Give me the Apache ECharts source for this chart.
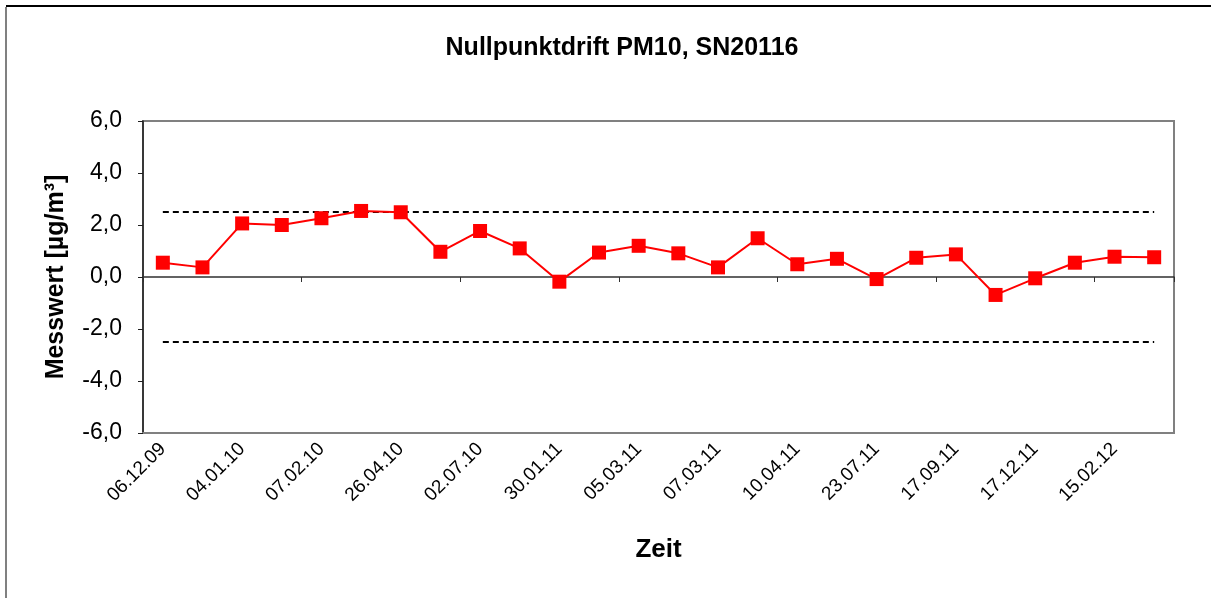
<!DOCTYPE html>
<html>
<head>
<meta charset="utf-8">
<script src="https://cdn.jsdelivr.net/npm/echarts@6/dist/echarts.min.js"></script>
<style>
  html, body { margin: 0; padding: 0; background: #fff; }
  #chart { width: 1211px; height: 598px; }
</style>
</head>
<body>
<div id="chart"></div>
<script>
// Kategorien (nur jede zweite ist beschriftet)
const categories = [
  "06.12.09", "", "04.01.10", "", "07.02.10", "", "26.04.10", "",
  "02.07.10", "", "30.01.11", "", "05.03.11", "", "07.03.11", "",
  "10.04.11", "", "23.07.11", "", "17.09.11", "", "17.12.11", "",
  "15.02.12", ""
];

// Messwerte Nullpunktdrift
const messwerte = [
  0.55, 0.37, 2.06, 2.0, 2.26, 2.54, 2.49, 0.97, 1.77, 1.1,
  -0.18, 0.94, 1.2, 0.91, 0.37, 1.49, 0.49, 0.7, -0.08, 0.74,
  0.87, -0.69, -0.05, 0.55, 0.78, 0.76
];

// Grenzen +/- 2,5
const obereGrenze = [[0, 2.5], [25, 2.5]];
const untereGrenze = [[0, -2.5], [25, -2.5]];

const yTicks = [-6, -4, -2, 0, 2, 4, 6];

const chart = echarts.init(document.getElementById("chart"));

const font = "Arial, 'Liberation Sans', sans-serif";

const option = {
  animation: false,
  backgroundColor: "#fff",
  title: {
    text: "Nullpunktdrift PM10, SN20116",
    left: 617,
    top: 31,
    textAlign: "center",
    textStyle: { fontFamily: font, fontSize: 25, fontWeight: "bold", color: "#000" }
  },
  graphic: [
    { type: "line", shape: { x1: 6, y1: 7, x2: 6, y2: 598 }, style: { stroke: "#808080", lineWidth: 2 } },
    { type: "line", shape: { x1: 6, y1: 6, x2: 1211, y2: 6 }, style: { stroke: "#000", lineWidth: 2 } }
  ],
  grid: {
    left: 143, right: 37, top: 121, bottom: 165,
    show: true, borderColor: "#808080", borderWidth: 2
  },
  xAxis: [
    {
      type: "category",
      data: categories,
      position: "bottom",
      boundaryGap: true,
      axisLine: { onZero: false, lineStyle: { color: "#808080", width: 2 } },
      axisTick: { show: false },
      axisLabel: {
        interval: 1, rotate: 45, margin: 13,
        fontFamily: font, fontSize: 19, color: "#000"
      },
      name: "Zeit",
      nameLocation: "middle",
      nameGap: 104,
      nameTextStyle: { fontFamily: font, fontSize: 26, fontWeight: "bold", color: "#000" }
    },
    {
      // Nulllinie mit Teilstrichen
      type: "category",
      data: categories,
      position: "top",
      boundaryGap: true,
      axisLine: { onZero: true, lineStyle: { color: "#303030", width: 1.5 } },
      axisTick: { show: true, inside: true, interval: 3, length: 5, lineStyle: { color: "#303030" } },
      axisLabel: { show: false }
    }
  ],
  yAxis: {
    type: "value",
    min: yTicks[0],
    max: yTicks[yTicks.length - 1],
    interval: 2,
    splitLine: { show: false },
    axisLine: { show: true, lineStyle: { color: "#202020", width: 1.5 } },
    axisTick: { show: true, length: 5, lineStyle: { color: "#202020" } },
    axisLabel: {
      margin: 21,
      fontFamily: font, fontSize: 23, color: "#000",
      formatter: v => v.toFixed(1).replace(".", ",")
    },
    name: "Messwert [µg/m³]",
    nameLocation: "middle",
    nameGap: 74,
    nameTextStyle: { fontFamily: font, fontSize: 25, fontWeight: "bold", color: "#000" }
  },
  series: [
    {
      type: "line",
      data: obereGrenze,
      symbol: "none",
      lineStyle: { color: "#000", width: 2, type: [6, 4] },
      silent: true
    },
    {
      type: "line",
      data: untereGrenze,
      symbol: "none",
      lineStyle: { color: "#000", width: 2, type: [6, 4] },
      silent: true
    },
    {
      type: "line",
      data: messwerte,
      symbol: "rect",
      symbolSize: 14,
      itemStyle: { color: "#ff0000" },
      lineStyle: { color: "#ff0000", width: 2 },
      z: 3
    }
  ]
};

chart.setOption(option);
</script>
</body>
</html>
